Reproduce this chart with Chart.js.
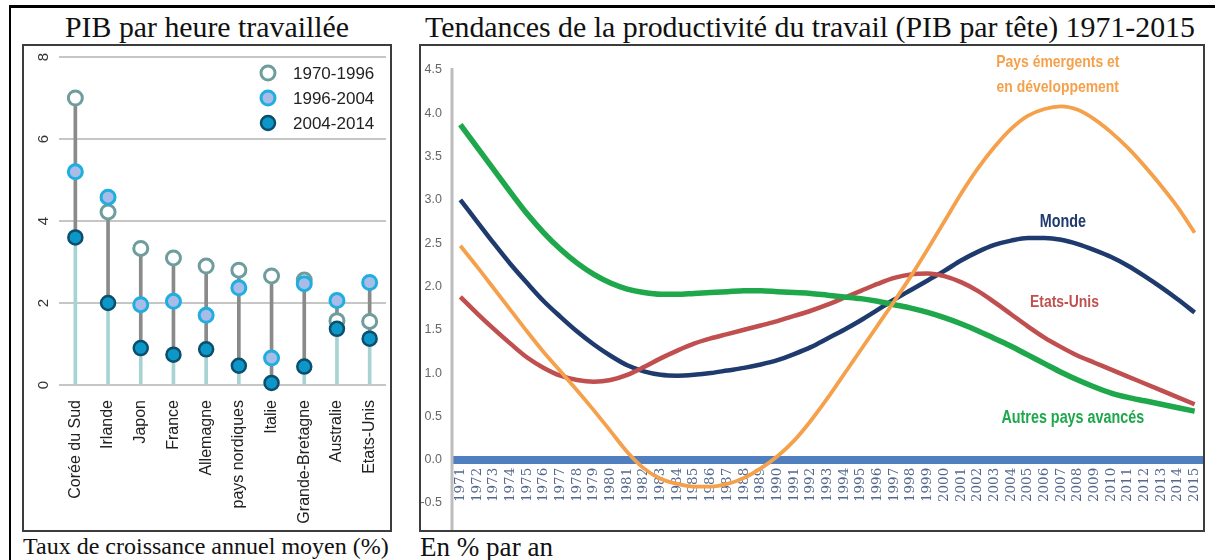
<!DOCTYPE html>
<html>
<head>
<meta charset="utf-8">
<script src="https://cdn.jsdelivr.net/npm/chart.js@4.4.1/dist/chart.umd.min.js"></script>
<style>
  html, body { margin: 0; padding: 0; background: #fff; }
  body { width: 1215px; height: 560px; position: relative; overflow: hidden; font-family: 'Liberation Serif', 'DejaVu Serif', serif; color: #111; }
  #frame { position: absolute; left: 9px; top: 5px; width: 1206px; height: 555px; border-top: 3px solid #000; border-left: 2px solid #000; box-sizing: border-box; }
  .txt { position: absolute; white-space: nowrap; line-height: 1; }
  .box { position: absolute; top: 44px; height: 488px; border: 2px solid #3c3c3c; box-sizing: border-box; background: #fff; }
  .box canvas { position: absolute; left: 0; top: 0; }
</style>
</head>
<body>
<div id="frame"></div>
<div class="txt fit" id="t1" data-w="284" data-cx="207" style="top:12px;font-size:26px;">PIB par heure travaillée</div>
<div class="txt fit" id="t2" data-w="770" data-cx="810" style="top:12px;font-size:26px;">Tendances de la productivité du travail (PIB par tête) 1971-2015</div>
<div class="box" style="left:22px;width:370px;"><canvas id="c1" width="366" height="484"></canvas></div>
<div class="box" style="left:419px;width:786px;"><canvas id="c2" width="782" height="484"></canvas></div>
<div class="txt fit" data-w="366" data-x="23" style="top:534px;font-size:21px;">Taux de croissance annuel moyen (%)</div>
<div class="txt fit" data-w="133" data-x="420" style="top:534px;font-size:21px;">En % par an</div>

<script>
// ---------- DATA : PIB par heure travaillée ----------
const pays = ['Corée du Sud', 'Irlande', 'Japon', 'France', 'Allemagne', 'pays nordiques', 'Italie', 'Grande-Bretagne', 'Australie', 'Etats-Unis'];
const periodes = ['1970-1996', '1996-2004', '2004-2014'];
const croissance7096 = [7.0, 4.22, 3.33, 3.1, 2.9, 2.8, 2.66, 2.56, 1.57, 1.55];
const croissance9604 = [5.2, 4.58, 1.96, 2.04, 1.7, 2.37, 0.66, 2.47, 2.06, 2.5];
const croissance0414 = [3.6, 2.0, 0.9, 0.74, 0.87, 0.47, 0.05, 0.45, 1.37, 1.13];
const yTicksGauche = [0, 2, 4, 6, 8];

// ---------- DATA : Tendances de la productivité 1971-2015 ----------
const annees = ['1971','1972','1973','1974','1975','1976','1977','1978','1979','1980','1981','1982','1983','1984','1985','1986','1987','1988','1989','1990','1991','1992','1993','1994','1995','1996','1997','1998','1999','2000','2001','2002','2003','2004','2005','2006','2007','2008','2009','2010','2011','2012','2013','2014','2015'];
const paysEmergents = [2.47,2.23,1.98,1.73,1.48,1.24,1.02,0.80,0.57,0.33,0.09,-0.10,-0.22,-0.28,-0.31,-0.31,-0.28,-0.21,-0.10,0.04,0.22,0.45,0.71,0.99,1.27,1.55,1.83,2.12,2.43,2.75,3.07,3.36,3.61,3.82,3.97,4.05,4.08,4.04,3.93,3.78,3.60,3.39,3.16,2.91,2.62];
const monde = [3.00,2.75,2.50,2.26,2.04,1.83,1.65,1.48,1.33,1.20,1.09,1.02,0.98,0.97,0.98,1.00,1.03,1.06,1.10,1.15,1.22,1.30,1.40,1.50,1.61,1.73,1.85,1.96,2.07,2.18,2.30,2.40,2.48,2.53,2.56,2.56,2.54,2.49,2.42,2.34,2.24,2.12,1.99,1.85,1.70];
const etatsUnis = [1.88,1.69,1.51,1.34,1.18,1.06,0.97,0.92,0.90,0.92,0.98,1.07,1.17,1.26,1.34,1.40,1.45,1.50,1.55,1.60,1.66,1.72,1.79,1.87,1.95,2.03,2.10,2.14,2.15,2.12,2.05,1.95,1.82,1.68,1.54,1.41,1.30,1.20,1.12,1.04,0.96,0.88,0.80,0.72,0.64];
const autresAvances = [3.87,3.61,3.35,3.09,2.84,2.62,2.43,2.27,2.14,2.04,1.97,1.93,1.91,1.91,1.92,1.93,1.94,1.95,1.95,1.94,1.93,1.92,1.90,1.88,1.86,1.83,1.79,1.75,1.70,1.64,1.57,1.49,1.40,1.31,1.21,1.11,1.01,0.92,0.84,0.77,0.72,0.68,0.64,0.60,0.56];
const nomsSeries = ['Pays émergents et|en développement', 'Monde', 'Etats-Unis', 'Autres pays avancés'];

// ---------- fit headings ----------
document.querySelectorAll('.fit').forEach(el => {
  const target = +el.dataset.w;
  const fs = parseFloat(el.style.fontSize);
  const w = el.getBoundingClientRect().width;
  el.style.fontSize = (fs * target / w).toFixed(2) + 'px';
  const w2 = el.getBoundingClientRect().width;
  if (el.dataset.cx) el.style.left = (+el.dataset.cx - w2 / 2) + 'px';
  else el.style.left = el.dataset.x + 'px';
});

const SANS = "'Liberation Sans', Arial, sans-serif";

// ---------- LEFT CHART ----------
const minVals = pays.map((_, i) => Math.min(croissance7096[i], croissance9604[i], croissance0414[i]));
const maxVals = pays.map((_, i) => Math.max(croissance7096[i], croissance9604[i], croissance0414[i]));

const pointStyles = [
  { bg: '#ffffff', border: '#6f9d9d', bw: 3 },
  { bg: '#a9bce8', border: '#1eaee0', bw: 3 },
  { bg: '#0c97c8', border: '#0c4e6c', bw: 2.5 }
];

const rotatedYTicks = {
  id: 'rotatedYTicks',
  afterDraw(chart) {
    const s = chart.scales.y, ctx = chart.ctx;
    ctx.save();
    ctx.fillStyle = '#333';
    ctx.font = "15px " + SANS;
    ctx.textAlign = 'center';
    ctx.textBaseline = 'middle';
    s.ticks.forEach(t => {
      const py = s.getPixelForValue(t.value);
      ctx.save();
      ctx.translate(s.left + 20, py);
      ctx.rotate(-Math.PI / 2);
      ctx.fillText(String(t.value), 0, 0);
      ctx.restore();
    });
    ctx.restore();
  }
};

const insideLegend = {
  id: 'insideLegend',
  afterDraw(chart) {
    const ctx = chart.ctx, a = chart.chartArea;
    ctx.save();
    ctx.font = "17px " + SANS;
    ctx.textBaseline = 'middle';
    ctx.textAlign = 'left';
    const sets = chart.data.datasets.filter(d => d.type === 'line');
    sets.forEach((d, i) => {
      const cy = a.top + 16 + i * 25;
      const cx = a.right - 118;
      ctx.beginPath();
      ctx.arc(cx, cy, 7, 0, Math.PI * 2);
      ctx.fillStyle = d.pointBackgroundColor;
      ctx.fill();
      ctx.lineWidth = d.pointBorderWidth;
      ctx.strokeStyle = d.pointBorderColor;
      ctx.stroke();
      ctx.fillStyle = '#222';
      ctx.fillText(d.label, a.right - 93, cy + 1);
    });
    ctx.restore();
  }
};

const noSidePadding = s => { s.paddingLeft = 0; s.paddingRight = 0; };

new Chart(document.getElementById('c1'), {
  data: {
    labels: pays,
    datasets: [
      { type: 'bar', label: 'base', data: pays.map((_, i) => [0, minVals[i]]), backgroundColor: '#a8d3d3', barThickness: 3, grouped: false, order: 10 },
      { type: 'bar', label: 'écart', data: pays.map((_, i) => [minVals[i], maxVals[i]]), backgroundColor: '#8a8a8a', barThickness: 3, grouped: false, order: 9 },
      ...[croissance7096, croissance9604, croissance0414].map((vals, k) => ({
        type: 'line', label: periodes[k], data: vals, showLine: false,
        pointRadius: 7, pointHoverRadius: 7,
        pointBackgroundColor: pointStyles[k].bg, pointBorderColor: pointStyles[k].border, pointBorderWidth: pointStyles[k].bw,
        order: 3 - k, clip: false
      }))
    ]
  },
  options: {
    responsive: false, animation: false,
    layout: { autoPadding: false, padding: { top: 11, right: 4, left: 0, bottom: 0 } },
    plugins: { legend: { display: false }, tooltip: { enabled: false }, title: { display: false } },
    scales: {
      x: {
        type: 'category', offset: true,
        grid: { display: false }, border: { display: false },
        ticks: { autoSkip: false, minRotation: 90, maxRotation: 90, padding: 7, color: '#222', font: { family: SANS, size: 16 } },
        afterFit: s => { s.height = 145; noSidePadding(s); }
      },
      y: {
        min: 0, max: 8,
        afterBuildTicks: s => { s.ticks = yTicksGauche.map(v => ({ value: v })); },
        grid: { color: '#c6c6c6', lineWidth: 2, drawTicks: false },
        border: { display: false },
        ticks: { display: false },
        afterFit: s => { s.width = 35; }
      }
    }
  },
  plugins: [rotatedYTicks, insideLegend]
});

// ---------- RIGHT CHART ----------
const lineColors = ['#f5a04b', '#1f3a6d', '#c0504f', '#1ea84b'];
const lineWidths = [3.8, 4.5, 4.5, 5.5];

const yAxisLine = {
  id: 'yAxisLine',
  beforeDatasetsDraw(chart) {
    const ctx = chart.ctx, a = chart.chartArea;
    ctx.save();
    ctx.strokeStyle = '#bdbdbd';
    ctx.lineWidth = 3;
    ctx.beginPath();
    ctx.moveTo(a.left, a.top - 2);
    ctx.lineTo(a.left, chart.height);
    ctx.stroke();
    ctx.restore();
  }
};

const seriesLabels = {
  id: 'seriesLabels',
  afterDatasetsDraw(chart, args, opts) {
    const ctx = chart.ctx, xs = chart.scales.x, ys = chart.scales.y;
    ctx.save();
    ctx.textAlign = 'center';
    ctx.textBaseline = 'middle';
    opts.items.forEach(it => {
      const lines = nomsSeries[it.serie].split('|');
      ctx.fillStyle = lineColors[it.serie];
      ctx.font = 'bold ' + it.size + 'px ' + SANS;
      lines.forEach((t, j) => {
        ctx.save();
        ctx.translate(xs.getPixelForValue(it.at), ys.getPixelForValue(it.val) + j * it.gap);
        ctx.scale(opts.squeeze, 1);
        ctx.fillText(t, 0, 0);
        ctx.restore();
      });
    });
    ctx.restore();
  }
};

const seriesData = [paysEmergents, monde, etatsUnis, autresAvances];

new Chart(document.getElementById('c2'), {
  type: 'line',
  data: {
    labels: annees,
    datasets: seriesData.map((d, i) => ({
      label: nomsSeries[i].replace('|', ' '), data: d,
      borderColor: lineColors[i], borderWidth: lineWidths[i],
      pointRadius: 0, cubicInterpolationMode: 'monotone', fill: false, order: i === 0 ? 0 : 4 - i
    }))
  },
  options: {
    responsive: false, animation: false,
    layout: { padding: { top: 24, right: 0, left: 0, bottom: 27 } },
    plugins: {
      legend: { display: false }, tooltip: { enabled: false },
      seriesLabels: {
        squeeze: 0.82,
        items: [
          { serie: 0, at: 35.8, val: 4.59, gap: 25, size: 17 },
          { serie: 1, at: 36.1, val: 2.74, gap: 0, size: 17.5 },
          { serie: 2, at: 36.2, val: 1.82, gap: 0, size: 17 },
          { serie: 3, at: 36.7, val: 0.48, gap: 0, size: 17.5 }
        ]
      }
    },
    scales: {
      x: {
        type: 'category', offset: true, position: { y: 0 },
        grid: { display: false, drawTicks: false }, border: { display: false },
        ticks: { autoSkip: false, minRotation: 90, maxRotation: 90, padding: 8, color: '#55688c', font: { family: "'DejaVu Serif', serif", size: 13.5 } },
        afterFit: s => { s.height = 0; noSidePadding(s); }
      },
      y: {
        min: -0.5, max: 4.5,
        ticks: { stepSize: 0.5, padding: 10, color: '#666', font: { family: SANS, size: 12.5 }, callback: v => Number(v).toFixed(1) },
        grid: {
          drawTicks: false,
          color: c => (c.tick && c.tick.value === 0) ? '#4f7fbf' : 'rgba(0,0,0,0)',
          lineWidth: c => (c.tick && c.tick.value === 0) ? 8 : 0
        },
        border: { display: false },
        afterFit: s => { s.width = 31; }
      }
    }
  },
  plugins: [yAxisLine, seriesLabels]
});
</script>
</body>
</html>
